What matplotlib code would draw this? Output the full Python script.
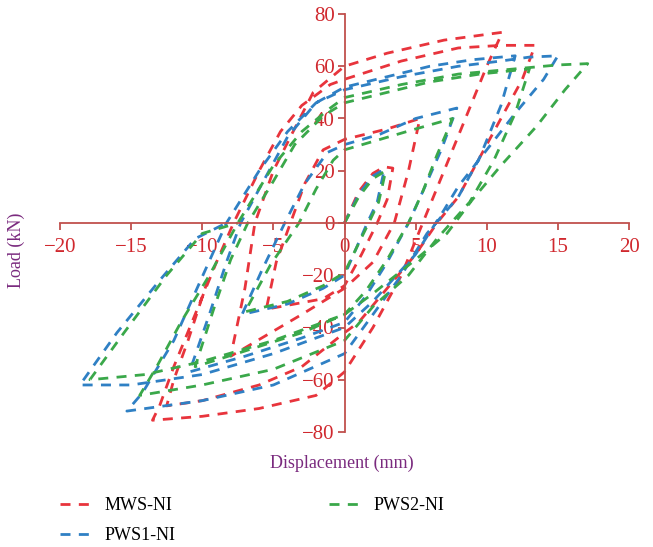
import numpy as np
import matplotlib.pyplot as plt

# hysteresis loops (displacement mm, load kN)
mws_disp = [0, 1, 2, 2.8, 3.4, 3, 2.3, 1.2, 0, -1.5, -3.5, -5.5,
            -4.8, -3.8, -2.8, -1.5, 0, 3, 5.3,
            4.5, 3.5, 2, 0, -3, -8,
            -7, -6.3, -5, -3.8, -2.2, 0, 3, 7, 11.1,
            10, 8.5, 7, 5.5, 4, 2, 0, -2, -6, -10, -13.5,
            -13, -12, -10.5, -9, -7.8, -6, -4.5, -3, -1, 0, 4, 8, 11, 13.4,
            12.5, 11, 9.5, 8, 6.5, 5, 3, 1, 0, -3, -6, -10, -12.5,
            -12, -11, -9.5]
mws_load = [0, 12, 19, 21.5, 21, 9, 0, -12, -24, -29, -31, -33,
            -15, 0, 15, 28, 32, 36, 40,
            20, 0, -15, -25, -35, -51,
            -25, 0, 20, 33, 50, 60, 65, 70, 73,
            60, 40, 20, 0, -20, -40, -57, -66, -71, -74, -75.5,
            -70, -55, -35, -15, 0, 20, 35, 45, 53, 55, 62, 67, 68, 68,
            55, 40, 25, 10, 0, -12, -25, -38, -42, -55, -62, -68, -70,
            -60, -45, -20]

pws1_disp = [0, 1, 2, 2.8, 2.3, 1.6, 0.8, 0, -1.5, -4, -7.2,
             -5.8, -4.2, -2.8, -1.2, 0, 2.5, 5, 7.9,
             6.8, 5.5, 4.5, 3, 1.5, 0, -3, -7, -10.9,
             -9.5, -8.3, -7.3, -5.5, -4, -2, 0, 3, 6, 9, 12,
             11, 9.5, 8, 5.8, 4, 2, 0, -5, -10, -15.3,
             -14.2, -12, -10.2, -8.3, -6, -4, -2, 0, 4, 8, 11, 13, 15,
             14, 12, 10, 8, 7, 5, 2, 0, -5, -10, -15, -18.6,
             -16, -13, -10.5, -8.3]
pws1_load = [0, 11, 18, 20.5, 8, 0, -10, -20, -25, -31, -35,
             -18, 0, 15, 27, 30, 34, 40, 44,
             28, 12, 0, -15, -28, -38, -44, -51, -57,
             -35, -15, 0, 18, 33, 46, 52, 56, 60, 62.5, 64,
             45, 25, 10, -4, -20, -35, -50, -62, -68, -72,
             -65, -45, -23, 0, 20, 35, 46, 51, 56, 60, 62, 63.5, 64,
             55, 42, 28, 14, 5, -12, -30, -40, -50, -58, -62, -62,
             -42, -22, -6, 0]

pws2_disp = [0, 1, 2, 2.9, 2.4, 1.7, 0.8, 0, -1.5, -4, -7,
             -5.2, -3.2, -2, -0.8, 0, 2.5, 5, 7.6,
             6.5, 5.5, 4.5, 3, 1.5, 0, -3, -7, -10.5,
             -9.2, -8, -6.8, -5, -3.5, -1.5, 0, 3, 6, 9.5, 13,
             12, 10.5, 8.8, 6.5, 4.5, 2, 0, -5, -10, -14.4,
             -13.2, -11.5, -9.5, -7.5, -5, -3, -1, 0, 4, 8, 12, 15, 17.1,
             15.5, 13.5, 11, 9, 7.2, 5, 2, 0, -5, -10, -14, -17.9,
             -15.5, -12.5, -10, -7.5]
pws2_load = [0, 10, 17, 20, 8, 0, -10, -19, -24, -30, -34,
             -16, 0, 13, 24, 28, 32, 36, 40,
             26, 12, 0, -14, -26, -35, -42, -49, -55,
             -33, -14, 0, 16, 30, 41, 46, 50, 54, 57, 59,
             42, 24, 8, -6, -20, -32, -45, -56, -62, -66,
             -55, -38, -20, 0, 22, 35, 44, 48, 53, 57, 59, 60.5, 61,
             51, 37, 22, 9, -4, -14, -27, -35, -45, -53, -58, -60,
             -42, -20, -4, 0]

series = [("MWS-NI", mws_disp, mws_load, "#e8343c"),
          ("PWS1-NI", pws1_disp, pws1_load, "#2f80c4"),
          ("PWS2-NI", pws2_disp, pws2_load, "#3aa84a")]

axis_col = "#c0504d"
tick_col = "#d0282e"
label_col = "#7a2a7e"
plt.rcParams['font.family'] = ['Liberation Serif', 'DejaVu Serif']

fig = plt.figure(figsize=(6.53, 5.47), dpi=100)
ax = fig.add_axes([60 / 653, 1 - 432 / 547, 569 / 653, 418 / 547])

for name, d, l, c in series:
    ax.plot(d, l, color=c, lw=2.0, dashes=(3.6, 3.0), label=name)

ax.set_xlim(-20, 20)
ax.set_ylim(-80, 80)
ax.set_xticks(np.arange(-20, 21, 5))
ax.set_yticks(np.arange(-80, 81, 20))
ax.set_xticklabels([str(v).replace('-', '\u2212') for v in range(-20, 21, 5)])
ax.set_yticklabels([str(v).replace('-', '\u2212') for v in range(-80, 81, 20)])

for s in ['top', 'right']:
    ax.spines[s].set_visible(False)
ax.spines['left'].set_position(('data', 0))
ax.spines['bottom'].set_position(('data', 0))
for s in ['left', 'bottom']:
    ax.spines[s].set_color(axis_col)
    ax.spines[s].set_linewidth(1.3)
ax.tick_params(axis='both', colors=axis_col, labelcolor=tick_col, labelsize=15,
               length=5, width=1.3, direction='out')
ax.tick_params(axis='x', pad=6)
ax.tick_params(axis='y', pad=2)

fig.text(16 / 653, 1 - 250 / 547, "Load (kN)", rotation=90, color=label_col,
         fontsize=13, ha='center', va='center')
fig.text(342 / 653, 1 - 463 / 547, "Displacement (mm)", color=label_col,
         fontsize=13, ha='center', va='center')

leg = fig.legend(loc='upper left', bbox_to_anchor=(44 / 653, 1 - 481 / 547), ncol=2,
                 frameon=False, fontsize=13, handlelength=1.9, columnspacing=8.5,
                 labelspacing=0.72, handletextpad=0.55)

fig.savefig("out.png", dpi=100)
